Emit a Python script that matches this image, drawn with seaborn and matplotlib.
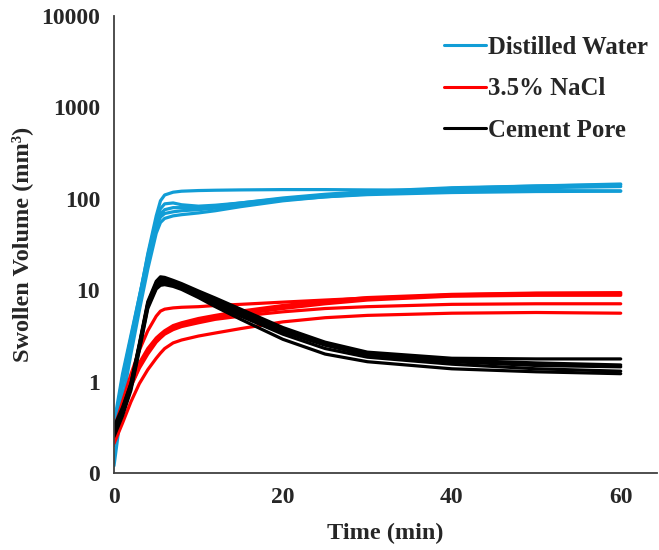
import numpy as np
import pandas as pd
import matplotlib
matplotlib.use("Agg")
import matplotlib.pyplot as plt
from matplotlib.lines import Line2D
from matplotlib.ticker import FixedLocator, FixedFormatter, NullLocator
import seaborn as sns

# Sampling times (min)
time_min = [0, 1, 2, 3, 4, 5, 5.5, 6, 7, 8, 10, 12, 15, 20, 25, 30, 40, 50, 60]

# Swollen volume (mm^3) per specimen, distilled water
water_1 = [0.25, 1.0, 2.8, 8, 25, 65, 95, 110, 118, 121, 123, 124, 125, 126, 126, 125, 124, 123, 122]
water_2 = [0.3, 1.1, 3.0, 8.5, 24, 58, 78, 88, 90, 86, 83, 85, 90, 100, 110, 118, 130, 138, 145]
water_3 = [0.2, 0.9, 2.6, 7.5, 21, 52, 68, 76, 80, 80, 80, 83, 90, 102, 112, 120, 132, 138, 142]
water_4 = [0.12, 0.6, 2.0, 6, 17, 42, 55, 61, 65, 67, 70, 74, 82, 95, 105, 113, 125, 132, 136]
water_5 = [0.35, 1.2, 3.2, 8.5, 22, 50, 63, 69, 72, 74, 76, 79, 86, 97, 105, 111, 117, 120, 121]

# 3.5% NaCl solution
nacl_1 = [0.3, 0.6, 1.2, 2.2, 3.6, 5.2, 5.9, 6.2, 6.4, 6.5, 6.6, 6.8, 7.0, 7.4, 7.8, 8.2, 8.7, 8.9, 9.0]
nacl_2 = [0.28, 0.5, 1.0, 1.6, 2.3, 3.0, 3.3, 3.6, 4.1, 4.4, 4.9, 5.3, 5.9, 6.8, 7.6, 8.3, 9.0, 9.3, 9.4]
nacl_3 = [0.25, 0.48, 0.95, 1.5, 2.2, 2.9, 3.2, 3.5, 3.9, 4.2, 4.7, 5.1, 5.7, 6.5, 7.3, 8.0, 8.9, 9.2, 9.2]
nacl_4 = [0.24, 0.46, 0.9, 1.45, 2.1, 2.8, 3.1, 3.4, 3.8, 4.1, 4.6, 5.0, 5.5, 6.3, 7.1, 7.8, 8.6, 8.8, 8.8]
nacl_5 = [0.22, 0.45, 0.88, 1.4, 2.0, 2.7, 3.0, 3.3, 3.7, 4.0, 4.4, 4.8, 5.2, 5.8, 6.3, 6.6, 7.0, 7.1, 7.1]
nacl_6 = [0.21, 0.35, 0.6, 0.95, 1.35, 1.8, 2.05, 2.3, 2.65, 2.85, 3.15, 3.4, 3.8, 4.5, 5.0, 5.3, 5.6, 5.7, 5.6]

# Cement pore solution
pore_1 = [0.3, 0.5, 0.95, 2.6, 7.5, 12.5, 14.0, 13.8, 12.8, 11.8, 9.8, 8.2, 6.2, 3.9, 2.7, 2.1, 1.8, 1.77, 1.77]
pore_2 = [0.28, 0.48, 0.9, 2.5, 7.2, 12.0, 13.3, 13.3, 12.4, 11.3, 9.4, 7.8, 5.8, 3.7, 2.6, 2.0, 1.72, 1.6, 1.52]
pore_3 = [0.32, 0.52, 0.95, 2.5, 7.0, 11.4, 12.6, 12.7, 12.0, 11.0, 9.0, 7.4, 5.5, 3.5, 2.5, 1.95, 1.65, 1.5, 1.45]
pore_4 = [0.27, 0.45, 0.85, 2.3, 6.6, 10.8, 11.9, 12.0, 11.5, 10.6, 8.6, 7.0, 5.2, 3.3, 2.3, 1.85, 1.55, 1.38, 1.3]
pore_5 = [0.25, 0.42, 0.8, 2.2, 6.3, 10.3, 11.3, 11.5, 11.0, 10.2, 8.3, 6.6, 4.8, 2.9, 2.0, 1.65, 1.38, 1.28, 1.22]

media = ["Distilled Water", "3.5% NaCl", "Cement Pore"]
series = {
    "Distilled Water": [water_1, water_2, water_3, water_4, water_5],
    "3.5% NaCl": [nacl_1, nacl_2, nacl_3, nacl_4, nacl_5, nacl_6],
    "Cement Pore": [pore_1, pore_2, pore_3, pore_4, pore_5],
}
colors = {"Distilled Water": "#119DD6", "3.5% NaCl": "#FF0000", "Cement Pore": "#000000"}

y_ticks = [0.1, 1, 10, 100, 1000, 10000]
y_tick_labels = ["0", "1", "10", "100", "1000", "10000"]
x_ticks = [0, 20, 40, 60]

rows = []
for m in media:
    for k, vals in enumerate(series[m]):
        for t, v in zip(time_min, vals):
            rows.append({"medium": m, "specimen": f"{m}-{k}", "time": t, "volume": v})
df = pd.DataFrame(rows)

sns.set_style("white")
plt.rcParams["font.family"] = ["Liberation Serif", "DejaVu Serif"]
plt.rcParams["font.weight"] = "bold"

fig = plt.figure(figsize=(6.59, 5.5), dpi=100)
ax = fig.add_axes([0.173, 0.14, 0.824, 0.831])

sns.lineplot(data=df, x="time", y="volume", hue="medium", units="specimen",
             estimator=None, palette=colors, linewidth=2.3, legend=False,
             sort=False, solid_joinstyle="round", ax=ax)

ax.set_yscale("log")
ax.set_ylim(0.1, 10000)
ax.set_xlim(0, 64.3)
ax.yaxis.set_major_locator(FixedLocator(y_ticks))
ax.yaxis.set_major_formatter(FixedFormatter(y_tick_labels))
ax.yaxis.set_minor_locator(NullLocator())
ax.set_xticks(x_ticks)

for side in ["top", "right"]:
    ax.spines[side].set_visible(False)
for side in ["left", "bottom"]:
    ax.spines[side].set_color("#404040")
    ax.spines[side].set_linewidth(1.3)

ax.tick_params(axis="both", which="major", direction="out", length=6, width=1.3,
               color="#404040", labelsize=17, pad=4)
for lbl in ax.get_xticklabels() + ax.get_yticklabels():
    lbl.set_fontweight("bold")

ax.set_xlabel("Time (min)", fontsize=17.5, fontweight="bold", labelpad=11)
ax.set_ylabel("Swollen Volume (mm³)", fontsize=17.5, fontweight="bold", labelpad=6)

handles = [Line2D([0], [0], color=colors[m], linewidth=2.2) for m in media]
ax.legend(handles, media, loc="upper right", bbox_to_anchor=(1.024, 1.005),
          frameon=False, handlelength=1.7, handletextpad=0.08, labelspacing=0.75,
          prop={"family": "Liberation Serif", "weight": "bold", "size": 17.8})

fig.savefig("out.png", dpi=100)
